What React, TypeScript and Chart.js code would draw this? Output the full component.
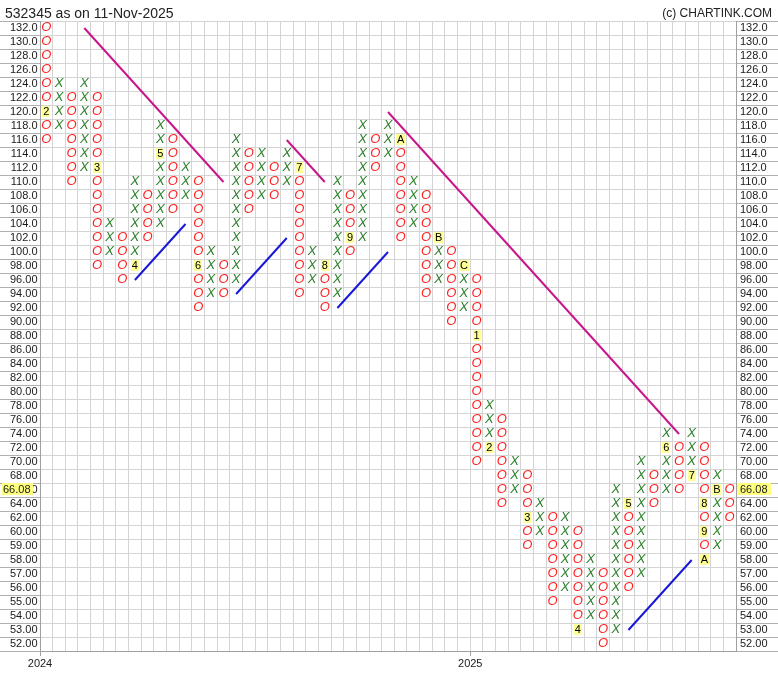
import React, { useEffect, useRef } from "react";
import { Chart, registerables } from "chart.js";

Chart.register(...registerables);

const TITLE = "532345 as on 11-Nov-2025";
const CREDIT = "(c) CHARTINK.COM";
const LAST_PRICE = 66.08;
const LAST_PRICE_TEXT = "66.08";

// Box levels, top to bottom (box size 2 above 60, 1 below)
const priceLevels = [
  132, 130, 128, 126, 124, 122, 120, 118, 116, 114, 112, 110, 108, 106, 104, 102, 100,
  98, 96, 94, 92, 90, 88, 86, 84, 82, 80, 78, 76, 74, 72, 70, 68, 66, 64, 62, 60,
  59, 58, 57, 56, 55, 54, 53, 52,
];

// Point & figure columns
const columnTypes = [
  "O", "X", "O", "X", "O", "X", "O", "X", "O", "X", "O", "X", "O", "X", "O", "X", "O", "X", "O", "X",
  "O", "X", "O", "X", "O", "X", "O", "X", "O", "X", "O", "X", "O", "X", "O", "X", "O", "X", "O", "X",
  "O", "X", "O", "X", "O", "X", "O", "X", "O", "X", "O", "X", "O", "X", "O",
];
const columnHighs = [
  132, 124, 122, 124, 122, 104, 102, 110, 108, 118, 116, 112, 110, 100, 98, 116, 114, 114, 112, 114,
  112, 100, 98, 110, 108, 118, 116, 118, 116, 110, 108, 102, 100, 98, 96, 78, 76, 70, 68, 64,
  62, 62, 60, 58, 57, 66, 64, 70, 68, 74, 72, 74, 72, 68, 66,
];
const columnLows = [
  116, 118, 110, 112, 98, 100, 96, 98, 102, 104, 106, 108, 92, 94, 94, 96, 106, 108, 108, 110,
  94, 96, 92, 94, 100, 102, 112, 114, 102, 104, 94, 96, 90, 92, 70, 72, 64, 66, 59, 60,
  55, 56, 53, 54, 52, 53, 56, 57, 64, 66, 66, 68, 58, 59, 62,
];

// Month markers (replace a box)
const markerColumns = [0, 4, 7, 9, 12, 20, 22, 24, 28, 31, 33, 34, 35, 38, 42, 46, 49, 51, 52, 52, 52, 53];
const markerPrices = [120, 112, 98, 114, 98, 112, 98, 102, 116, 102, 98, 88, 72, 62, 53, 64, 72, 68, 64, 60, 58, 66];
const markerLabels = ["2", "3", "4", "5", "6", "7", "8", "9", "A", "B", "C", "1", "2", "3", "4", "5", "6", "7", "8", "9", "A", "B"];

// Year ticks (at left edge of column)
const yearColumns = [0, 34];
const yearLabels = ["2024", "2025"];

// Trend lines: [startCol, startPrice, endCol, endPrice]
const resistanceLines = [
  [3, 132, 14, 110],
  [19, 116, 22, 110],
  [27, 120, 50, 74],
];
const supportLines = [
  [7, 96, 11, 104],
  [15, 94, 19, 102],
  [23, 92, 27, 100],
  [46, 53, 51, 58],
];

const FONT = "'Liberation Sans', Arial, Helvetica, sans-serif";
const X_COLOR = "#2a7f2a";
const O_COLOR = "#ff2020";
const TEXT_COLOR = "#1a1a1a";
const GRID_COLOR = "#d4d4d4";
const TICK_COLOR = "#b0b0b0";
const BORDER_COLOR = "#a0a0a0";
const RES_COLOR = "#c8168c";
const SUP_COLOR = "#1818d8";
const MARK_BG = "#ffff99";
const PRICE_BG = "#ffff80";

function levelLabel(p: number): string {
  return p >= 100 ? p.toFixed(1) : p.toFixed(2);
}
const yLabels = priceLevels.map(levelLabel);

const glyphPlugin = {
  id: "pfGlyphs",
  afterDatasetsDraw(chart: any) {
    const ctx = chart.ctx;
    ctx.save();
    chart.data.datasets.forEach((ds: any, i: number) => {
      const kind = ds.label;
      if (kind !== "X" && kind !== "O" && kind !== "M") return;
      const meta = chart.getDatasetMeta(i);
      meta.data.forEach((el: any, j: number) => {
        const x = el.x;
        const y = el.y;
        if (kind === "M") {
          const txt = ds.data[j].label;
          ctx.font = `11px ${FONT}`;
          const w = ctx.measureText(txt).width;
          ctx.fillStyle = MARK_BG;
          ctx.fillRect(Math.round(x - w / 2 - 1), Math.round(y - 6), Math.round(w + 2), 11);
          ctx.fillStyle = "#000";
          ctx.textAlign = "center";
          ctx.textBaseline = "middle";
          ctx.fillText(txt, x, y);
        } else {
          ctx.font = `italic 13px ${FONT}`;
          ctx.fillStyle = kind === "X" ? X_COLOR : O_COLOR;
          ctx.textAlign = "center";
          ctx.textBaseline = "middle";
          ctx.fillText(kind, x, y - 0.5);
        }
      });
    });
    ctx.restore();
  },
  afterDraw(chart: any) {
    const ctx = chart.ctx;
    const area = chart.chartArea;
    const yScale = chart.scales.y;
    ctx.save();
    // title and credit
    ctx.fillStyle = "#222";
    ctx.textBaseline = "alphabetic";
    ctx.font = `14px ${FONT}`;
    ctx.textAlign = "left";
    ctx.fillText(TITLE, 5, 18);
    ctx.font = `12px ${FONT}`;
    ctx.textAlign = "right";
    ctx.fillText(CREDIT, chart.width - 6, 17);
    // last price boxes
    let idx = priceLevels.findIndex((p) => p <= LAST_PRICE);
    if (idx < 0) idx = priceLevels.length - 1;
    const py = yScale.getPixelForValue(idx);
    ctx.font = `11px ${FONT}`;
    const tw = ctx.measureText(LAST_PRICE_TEXT).width;
    ctx.fillStyle = PRICE_BG;
    ctx.fillRect(2, Math.round(py - 7), Math.round(tw + 3), 12);
    ctx.fillRect(area.right + 1, Math.round(py - 7), Math.round(tw + 6), 12);
    ctx.fillStyle = TEXT_COLOR;
    ctx.textAlign = "left";
    ctx.textBaseline = "middle";
    ctx.fillText(LAST_PRICE_TEXT, 3, py);
    ctx.fillText(LAST_PRICE_TEXT, area.right + 4, py);
    ctx.restore();
  },
};

export default function App() {
  const canvasRef = useRef<HTMLCanvasElement>(null);

  useEffect(() => {
    const canvas = canvasRef.current;
    if (!canvas) return;

    const markerKeys = new Set(markerColumns.map((c, i) => `${c}:${markerPrices[i]}`));
    const xPoints: any[] = [];
    const oPoints: any[] = [];
    columnTypes.forEach((t, c) => {
      priceLevels.forEach((p) => {
        if (p > columnHighs[c] || p < columnLows[c]) return;
        if (markerKeys.has(`${c}:${p}`)) return;
        (t === "X" ? xPoints : oPoints).push({ x: c, y: levelLabel(p) });
      });
    });
    const markPoints = markerColumns.map((c, i) => ({
      x: c,
      y: levelLabel(markerPrices[i]),
      label: markerLabels[i],
    }));

    const lineSet = (seg: number[], color: string) => ({
      label: "line",
      data: [
        { x: seg[0], y: levelLabel(seg[1]) },
        { x: seg[2], y: levelLabel(seg[3]) },
      ],
      showLine: true,
      borderColor: color,
      borderWidth: 2,
      pointRadius: 0,
      fill: false,
    });

    const yearTickValues = yearColumns.map((c) => c - 0.5);
    const nCols = columnTypes.length;

    const chart = new Chart(canvas, {
      type: "scatter",
      data: {
        datasets: [
          { label: "X", data: xPoints, pointRadius: 0 },
          { label: "O", data: oPoints, pointRadius: 0 },
          { label: "M", data: markPoints, pointRadius: 0 },
          ...resistanceLines.map((s) => lineSet(s, RES_COLOR)),
          ...supportLines.map((s) => lineSet(s, SUP_COLOR)),
        ] as any,
      },
      options: {
        animation: false,
        responsive: false,
        devicePixelRatio: 1,
        events: [],
        layout: { padding: { top: 21, left: 0, right: 0, bottom: 0 } },
        plugins: {
          legend: { display: false },
          tooltip: { enabled: false },
          title: { display: false },
        },
        scales: {
          x: {
            type: "linear",
            position: "bottom",
            min: -0.5,
            max: nCols - 0.5,
            afterBuildTicks: (scale: any) => {
              const ticks = [];
              for (let i = 0; i <= nCols; i++) ticks.push({ value: i - 0.5 });
              scale.ticks = ticks;
            },
            afterFit: (scale: any) => {
              scale.height = 29;
            },
            grid: {
              color: GRID_COLOR,
              tickLength: 5,
              tickColor: (ctx: any) =>
                ctx.tick && yearTickValues.includes(ctx.tick.value) ? BORDER_COLOR : "rgba(0,0,0,0)",
            },
            border: { color: BORDER_COLOR },
            ticks: {
              autoSkip: false,
              maxRotation: 0,
              minRotation: 0,
              padding: 1,
              color: TEXT_COLOR,
              font: { family: FONT, size: 11 },
              callback: (v: any) => {
                const k = yearTickValues.indexOf(Number(v));
                return k >= 0 ? yearLabels[k] : "";
              },
            },
          },
          y: {
            type: "category",
            position: "left",
            labels: yLabels,
            offset: true,
            afterFit: (scale: any) => {
              scale.width = 40;
            },
            grid: { offset: true, color: GRID_COLOR, tickLength: 40, tickColor: TICK_COLOR },
            border: { color: BORDER_COLOR },
            ticks: {
              autoSkip: false,
              padding: -37.5,
              color: TEXT_COLOR,
              font: { family: FONT, size: 11 },
            },
          },
          y2: {
            type: "category",
            position: "right",
            labels: yLabels,
            offset: true,
            afterFit: (scale: any) => {
              scale.width = 42;
            },
            grid: { offset: true, drawOnChartArea: false, tickLength: 42, tickColor: TICK_COLOR },
            border: { color: BORDER_COLOR },
            ticks: {
              autoSkip: false,
              padding: -38,
              color: TEXT_COLOR,
              font: { family: FONT, size: 11 },
            },
          },
        } as any,
      },
      plugins: [glyphPlugin],
    });

    return () => chart.destroy();
  }, []);

  return (
    <div style={{ position: "absolute", left: 0, top: 0, width: 778, height: 680, background: "#fff" }}>
      <canvas ref={canvasRef} width={778} height={680} style={{ display: "block" }} />
    </div>
  );
}
